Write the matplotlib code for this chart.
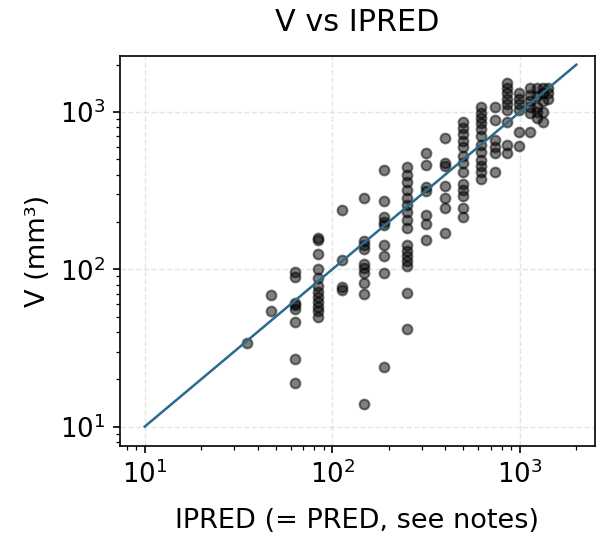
import numpy as np
from matplotlib import pyplot as plt

ipred_cols = [35, 47, 63, 84, 112, 147, 189, 249, 315, 398, 498,
              622, 733, 850, 988, 1130, 1231, 1327, 1409]
v_obs = [
    [34],
    [69, 54],
    [96, 89, 61, 59, 56, 46, 27, 19],
    [158, 153, 126, 100, 88, 78, 72, 67, 62, 58, 54, 50],
    [237, 115, 77, 74],
    [284, 152, 143, 135, 108, 102, 95, 82, 70, 14],
    [425, 270, 215, 201, 192, 143, 122, 95, 24],
    [450, 400, 361, 321, 285, 258, 232, 207, 184, 143, 131, 122, 113, 105, 71, 42],
    [545, 463, 335, 316, 222, 195, 154],
    [682, 477, 453, 340, 283, 245, 171],
    [869, 796, 730, 658, 603, 528, 477, 418, 351, 321, 294, 247, 216],
    [1084, 993, 910, 846, 775, 709, 621, 560, 499, 457, 418, 377],
    [1084, 895, 668, 603, 552, 418],
    [1520, 1413, 1312, 1219, 1132, 1037, 869, 621, 552],
    [1331, 1219, 1132, 1037, 752, 611],
    [1413, 1292, 1184, 1084, 993, 752],
    [1413, 1256, 1084, 1000, 923],
    [1413, 1312, 1167, 1000, 869],
    [1432, 1331, 1219],
]

ipred = []
v = []
for xc, ys in zip(ipred_cols, v_obs):
    for yv in ys:
        ipred.append(xc)
        v.append(yv)

line_x = [10, 2000]

fig = plt.figure(figsize=(596 / 150, 539 / 150), dpi=150)
ax = fig.add_axes([0.201, 0.173, 0.797, 0.723])

ax.scatter(ipred, v, s=22, color='k', alpha=0.5, zorder=3)
ax.plot(line_x, line_x, color='#2a6a8c', lw=1.2, zorder=4)

ax.set_xscale('log')
ax.set_yscale('log')
ax.set_xlim(7.36, 2510)
ax.set_ylim(7.55, 2270)
ax.grid(True, which='major', linestyle='--', color='#cccccc', alpha=0.5, lw=0.7)

ax.set_title("V vs IPRED", fontsize=14.5, pad=12)
ax.set_xlabel("IPRED (= PRED, see notes)", fontsize=13, labelpad=9)
ax.set_ylabel("V (mm³)", fontsize=13)
ax.tick_params(axis='both', which='major', labelsize=12.5)

fig.savefig("out.png", dpi=150)
